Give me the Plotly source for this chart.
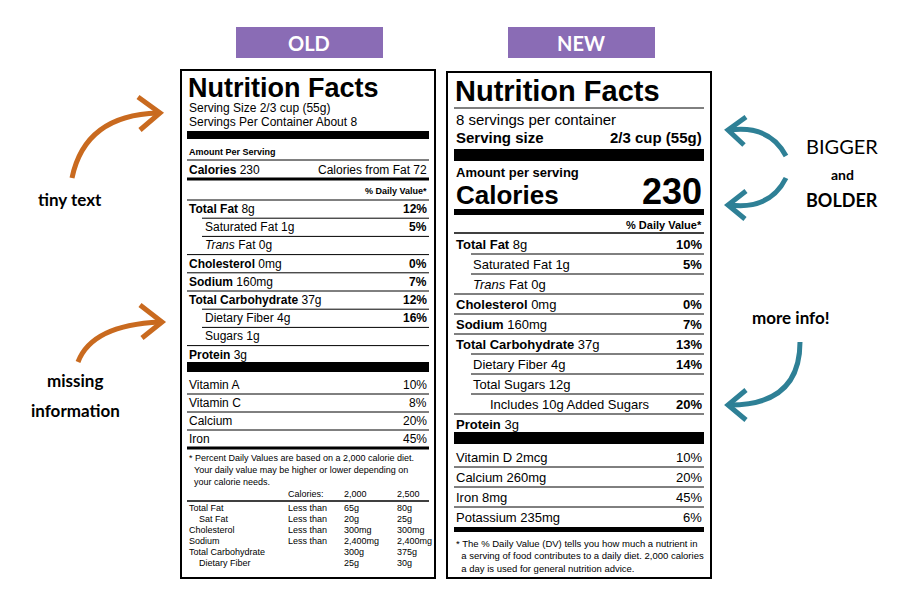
import plotly.graph_objects as go

# ---- data ----
old_serving = ["Serving Size 2/3 cup (55g)", "Servings Per Container About 8"]
old_rows = [("Total Fat", "8g", "12%", 0), ("Saturated Fat", "1g", "5%", 1),
            ("<i>Trans</i> Fat", "0g", "", 1), ("Cholesterol", "0mg", "0%", 0),
            ("Sodium", "160mg", "7%", 0), ("Total Carbohydrate", "37g", "12%", 0),
            ("Dietary Fiber", "4g", "16%", 1), ("Sugars", "1g", "", 1),
            ("Protein", "3g", "", 0)]
old_vitamins = [("Vitamin A", "10%"), ("Vitamin C", "8%"), ("Calcium", "20%"), ("Iron", "45%")]
old_foot = ["* Percent Daily Values are based on a 2,000 calorie diet.",
            "  Your daily value may be higher or lower depending on",
            "  your calorie needs."]
old_table_head = ["Calories:", "2,000", "2,500"]
old_table = [("Total Fat", "Less than", "65g", "80g"), ("    Sat Fat", "Less than", "20g", "25g"),
             ("Cholesterol", "Less than", "300mg", "300mg"), ("Sodium", "Less than", "2,400mg", "2,400mg"),
             ("Total Carbohydrate", "", "300g", "375g"), ("    Dietary Fiber", "", "25g", "30g")]

new_rows = [("Total Fat", "8g", "10%", 0), ("Saturated Fat", "1g", "5%", 1),
            ("<i>Trans</i> Fat", "0g", "", 1), ("Cholesterol", "0mg", "0%", 0),
            ("Sodium", "160mg", "7%", 0), ("Total Carbohydrate", "37g", "13%", 0),
            ("Dietary Fiber", "4g", "14%", 1), ("Total Sugars", "12g", "", 1),
            ("Includes 10g Added Sugars", "", "20%", 2), ("Protein", "3g", "", 0)]
new_vitamins = [("Vitamin D 2mcg", "10%"), ("Calcium 260mg", "20%"), ("Iron 8mg", "45%"), ("Potassium 235mg", "6%")]
new_foot = ["* The % Daily Value (DV) tells you how much a nutrient in",
            "  a serving of food contributes to a daily diet. 2,000 calories",
            "  a day is used for general nutrition advice."]

ORANGE = "#c96a1f"
TEAL = "#2e8096"
PURPLE = "#8a6cb5"
F = "Liberation Sans"
S = "Lato"

shapes, ann = [], []


def txt(x, y, s, size=12, bold=False, anchor="left", font=F, color="black"):
    if bold:
        s = "<b>" + s + "</b>"
    ann.append(dict(x=x, y=y, text=s, showarrow=False, xanchor=anchor, yanchor="middle",
                    font=dict(family=font, size=size, color=color)))


def line(x0, x1, y, w=1):
    shapes.append(dict(type="line", x0=x0, x1=x1, y0=y, y1=y, line=dict(color="black", width=w)))


def bar(x0, x1, y0, y1):
    shapes.append(dict(type="rect", x0=x0, x1=x1, y0=y0, y1=y1, fillcolor="black", line=dict(width=0)))


# ---- headers ----
for x0, lab in [(236, "OLD"), (508, "NEW")]:
    shapes.append(dict(type="rect", x0=x0, x1=x0 + 147, y0=27, y1=58, fillcolor=PURPLE,
                       line=dict(width=0)))
    txt(x0 + 73, 43, lab, 20, True, "center", S, "white")

# ---- old label ----
L, R = 181, 435
shapes.append(dict(type="rect", x0=L, x1=R, y0=70, y1=578, line=dict(color="black", width=2)))
a, b = L + 6, R - 6
txt(a - 1, 88, "Nutrition Facts", 27, True)
txt(a, 108, old_serving[0], 12)
txt(a, 122, old_serving[1], 12)
bar(a, b, 131, 139)
txt(a, 152, "Amount Per Serving", 9, True)
line(a, b, 160)
txt(a, 170, "<b>Calories</b> 230", 12)
txt(b, 170, "Calories from Fat 72", 12, anchor="right")
line(a, b, 179, 3)
txt(b, 191, "% Daily Value*", 9, True, "right")
y = 209
for name, amt, dv, ind in old_rows:
    line(a + (15 if ind else 0), b, y - 9)
    lab = ("<b>%s</b> %s" % (name, amt)) if ind == 0 else "%s %s" % (name, amt)
    txt(a + 16 * ind, y, lab, 12)
    txt(b, y, dv, 12, True, "right")
    y += 18.2
bar(a, b, 362, 372)
y = 385
for i, (name, dv) in enumerate(old_vitamins):
    if i:
        line(a, b, y - 9)
    txt(a, y, name, 12)
    txt(b, y, dv, 12, anchor="right")
    y += 18
line(a, b, 448, 3)
for i, s in enumerate(old_foot):
    txt(a, 458 + 12 * i, s.replace("  ", "&nbsp;&nbsp;"), 9)
cols = [a, 286, 342, 395]
for j, s in enumerate(old_table_head):
    txt(cols[j + 1], 494, s, 9)
line(a, b, 501, 1.5)
for i, row in enumerate(old_table):
    for j, s in enumerate(row):
        txt(cols[j], 508 + 11 * i, s.replace("    ", "&nbsp;&nbsp;&nbsp;&nbsp;"), 9)

# ---- new label ----
L, R = 447, 711
shapes.append(dict(type="rect", x0=L, x1=R, y0=72, y1=578, line=dict(color="black", width=2)))
a, b = L + 7, R - 7
txt(a - 1, 91, "Nutrition Facts", 29, True)
line(a, b, 108)
txt(a, 119, "8 servings per container", 15)
txt(a, 137, "Serving size", 15, True)
txt(b, 137, "2/3 cup (55g)", 15, True, "right")
bar(a, b, 149, 161)
txt(a, 172, "Amount per serving", 13, True)
txt(a, 195, "Calories", 26, True)
txt(b, 191, "230", 36, True, "right")
bar(a, b, 209, 215)
txt(b, 225, "% Daily Value*", 11, True, "right")
line(a, b, 233, 1.5)
y = 244
for name, amt, dv, ind in new_rows:
    if y > 244:
        line(a + (17 if ind else 0), b, y - 10)
    lab = ("<b>%s</b> %s" % (name, amt)) if ind == 0 else "%s %s" % (name, amt)
    txt(a + 17 * ind, y, lab, 13)
    txt(b, y, dv, 13, True, "right")
    y += 20
bar(a, b, 432, 444)
y = 457
for i, (name, dv) in enumerate(new_vitamins):
    if i:
        line(a, b, y - 10)
    txt(a, y, name, 13)
    txt(b, y, dv, 13, anchor="right")
    y += 20
bar(a, b, 527, 532)
for i, s in enumerate(new_foot):
    txt(a, 543 + 12.5 * i, s.replace("  ", "&nbsp;&nbsp;"), 9.5)

# ---- side notes ----
txt(70, 199, "tiny text", 17, True, "center", S)
txt(75, 380, "missing", 17, True, "center", S)
txt(75, 410, "information", 17, True, "center", S)
txt(842, 146, "BIGGER", 20, False, "center", S)
txt(842, 174, "and", 14, True, "center", S)
txt(842, 200, "BOLDER", 18, True, "center", S)
txt(790, 317, "more info!", 17, True, "center", S)


def arrow(path, head, color):
    shapes.append(dict(type="path", path=path, line=dict(color=color, width=5)))
    shapes.append(dict(type="path", path=head, line=dict(color=color, width=5)))


arrow("M 72 178 Q 85 115 158 113", "M 138 97 L 160 113 L 140 130", ORANGE)
arrow("M 78 362 Q 92 325 160 322", "M 140 305 L 162 322 L 142 338", ORANGE)
arrow("M 786 156 Q 770 125 730 130", "M 746 117 L 728 130 L 744 145", TEAL)
arrow("M 786 178 Q 770 210 730 205", "M 746 191 L 728 205 L 745 219", TEAL)
arrow("M 800 342 Q 800 405 730 405", "M 746 390 L 728 405 L 746 420", TEAL)

fig = go.Figure()
# page body adds an 8px offset, so shift the view to compensate
fig.update_layout(width=900, height=600, margin=dict(l=0, r=0, t=0, b=0),
                  plot_bgcolor="white", paper_bgcolor="white", shapes=shapes, annotations=ann,
                  xaxis=dict(range=[8, 908], visible=False),
                  yaxis=dict(range=[608, 8], visible=False), showlegend=False)
fig.write_html("out.html")
